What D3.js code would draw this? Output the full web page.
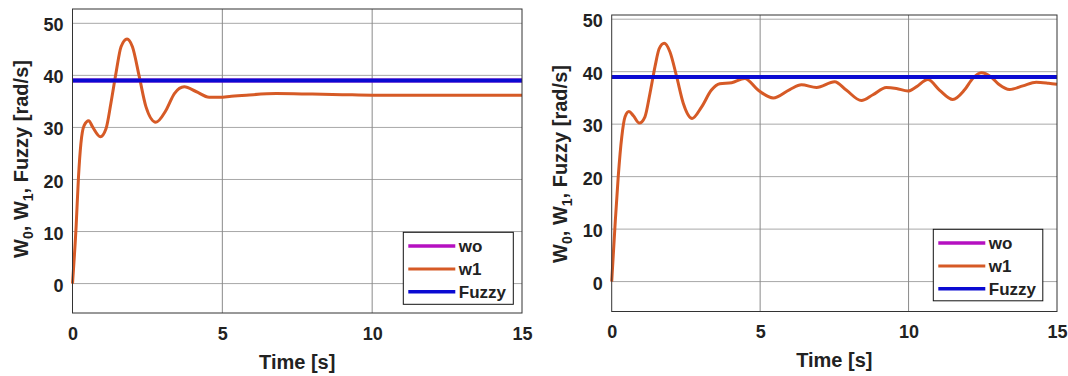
<!DOCTYPE html>
<html>
<head>
<meta charset="utf-8">
<script src="https://cdn.jsdelivr.net/npm/d3@7"></script>
<style>
  html, body { margin: 0; padding: 0; background: #fff; }
  svg { display: block; }
  text { font-family: "Liberation Sans", Arial, sans-serif; font-weight: bold; fill: #222; }
</style>
</head>
<body>
<svg id="chart" width="1068" height="376"></svg>
<script>
// Axis ticks
const timeTicks = [0, 5, 10, 15];
const speedTicks = [0, 10, 20, 30, 40, 50];
const seriesNames = ["wo", "w1", "Fuzzy"];

// Reference speed (wo) and fuzzy-controlled speed, constant over the run
const refTime = [0, 15];
const woSpeed = [39, 39];
const fuzzySpeed = [39, 39];

// Left panel: w1 response
const leftTime = [0, 0.12, 0.2, 0.28, 0.39, 0.54, 0.67, 0.93, 1.12, 1.28, 1.45, 1.62, 1.82, 2.0,
  2.23, 2.45, 2.78, 3.12, 3.4, 3.73, 4.12, 4.56, 4.9, 5.3, 5.8, 6.8, 8, 9, 10, 11, 12, 13, 14, 15];
const leftW1 = [0, 10.9, 20.5, 26.9, 30.4, 31.3, 30.1, 28.2, 29.8, 34.6, 40.4, 45.5, 47.0, 45.5,
  39.7, 34.0, 31.0, 33.3, 36.5, 37.8, 36.9, 35.8, 35.8, 36.0, 36.2, 36.5, 36.4, 36.3, 36.2, 36.2, 36.2, 36.2, 36.2, 36.2];

// Right panel: w1 response
const rightTime = [0, 0.11, 0.22, 0.34, 0.45, 0.58, 0.73, 0.93, 1.12, 1.29, 1.46, 1.6, 1.77, 1.96,
  2.19, 2.41, 2.71, 3.03, 3.36, 3.64, 4.04, 4.48, 4.93, 5.44, 6.0, 6.39, 6.9, 7.51, 7.9, 8.41,
  8.8, 9.25, 9.59, 9.98, 10.26, 10.65, 11.04, 11.49, 11.88, 12.16, 12.45, 12.78, 13.06, 13.4,
  13.85, 14.3, 14.72, 15];
const rightW1 = [0, 10.5, 20, 27.6, 31.4, 32.4, 31.6, 30.2, 31.4, 35.9, 41, 44.4, 45.4, 43.8,
  39, 34, 31.1, 33.3, 36.5, 37.7, 37.9, 38.7, 36.5, 35.0, 36.6, 37.5, 37.0, 38.1, 36.5, 34.5,
  35.6, 37.0, 36.8, 36.3, 37.1, 38.5, 36.5, 34.7, 36.5, 38.7, 39.8, 39.0, 37.5, 36.6,
  37.3, 38.0, 37.8, 37.6];

const colors = { wo: "#b510c0", w1: "#d65a26", Fuzzy: "#0a0ad2" };

const panels = [
  { time: leftTime, w1: leftW1, x0: 72.5, x1: 522, y0: 9, y1: 313, yDom: [-5.65, 52.75],
    ylabX: 27.5, ylabY: 159, legX: 403.3, legY: 232.3, legW: 110, legH: 72 },
  { time: rightTime, w1: rightW1, x0: 611.7, x1: 1057, y0: 15, y1: 311.5, yDom: [-5.7, 50.8],
    ylabX: 567, ylabY: 164, legX: 933.3, legY: 229.3, legW: 109.5, legH: 71.5 }
];

const svg = d3.select("#chart");

panels.forEach(p => {
  const x = d3.scaleLinear().domain([0, 15]).range([p.x0, p.x1]);
  const y = d3.scaleLinear().domain(p.yDom).range([p.y1, p.y0]);
  const g = svg.append("g");

  // plot background
  g.append("rect").attr("x", p.x0).attr("y", p.y0)
    .attr("width", p.x1 - p.x0).attr("height", p.y1 - p.y0).attr("fill", "#fff");

  // grid
  g.selectAll(".hg").data(speedTicks).join("line")
    .attr("x1", p.x0).attr("x2", p.x1)
    .attr("y1", d => y(d)).attr("y2", d => y(d))
    .attr("stroke", "#a8a8a8").attr("stroke-width", 1);
  g.selectAll(".vg").data(timeTicks.filter(t => t > 0 && t < 15)).join("line")
    .attr("y1", p.y0).attr("y2", p.y1)
    .attr("x1", d => x(d)).attr("x2", d => x(d))
    .attr("stroke", "#8a8a8a").attr("stroke-width", 1);

  // axes (tick labels only; the frame is drawn below)
  const yAxis = d3.axisLeft(y).tickValues(speedTicks).tickSize(0).tickPadding(9);
  const ya = g.append("g").attr("transform", `translate(${p.x0},0)`).call(yAxis);
  ya.select(".domain").remove();
  ya.selectAll("text").attr("font-size", 18).attr("font-family", null).attr("dy", "0.42em")
    .style("font-family", "'Liberation Sans', Arial, sans-serif").style("fill", "#222");

  const xAxis = d3.axisBottom(x).tickValues(timeTicks).tickSize(0).tickPadding(14);
  const xa = g.append("g").attr("transform", `translate(0,${p.y1})`).call(xAxis);
  xa.select(".domain").remove();
  xa.selectAll("text").attr("font-size", 18).attr("font-family", null).attr("dy", "0.72em")
    .style("font-family", "'Liberation Sans', Arial, sans-serif").style("fill", "#222");

  // series
  const line = d3.line().x(d => x(d[0])).y(d => y(d[1]));
  g.append("path").datum(refTime.map((t, i) => [t, woSpeed[i]]))
    .attr("d", line).attr("fill", "none").attr("stroke", colors.wo).attr("stroke-width", 4);
  g.append("path").datum(p.time.map((t, i) => [t, p.w1[i]]))
    .attr("d", line.curve(d3.curveMonotoneX)).attr("fill", "none")
    .attr("stroke", colors.w1).attr("stroke-width", 3).attr("stroke-linejoin", "round");
  g.append("path").datum(refTime.map((t, i) => [t, fuzzySpeed[i]]))
    .attr("d", d3.line().x(d => x(d[0])).y(d => y(d[1])))
    .attr("fill", "none").attr("stroke", colors.Fuzzy).attr("stroke-width", 4);

  // frame
  g.append("rect").attr("x", p.x0).attr("y", p.y0)
    .attr("width", p.x1 - p.x0).attr("height", p.y1 - p.y0)
    .attr("fill", "none").attr("stroke", "#333").attr("stroke-width", 1);

  // axis labels
  g.append("text").attr("x", (p.x0 + p.x1) / 2).attr("y", p.y1 + 55.5)
    .attr("text-anchor", "middle").attr("font-size", 20).text("Time [s]");

  const yl = g.append("text")
    .attr("transform", `translate(${p.ylabX},${p.ylabY}) rotate(-90)`)
    .attr("text-anchor", "middle").attr("font-size", 20);
  yl.append("tspan").text("W");
  yl.append("tspan").attr("font-size", 14).attr("dy", 5).text("0");
  yl.append("tspan").attr("dy", -5).text(", W");
  yl.append("tspan").attr("font-size", 14).attr("dy", 5).text("1");
  yl.append("tspan").attr("dy", -5).text(", Fuzzy [rad/s]");

  // legend
  const lg = g.append("g").attr("transform", `translate(${p.legX},${p.legY})`);
  lg.append("rect").attr("width", p.legW).attr("height", p.legH)
    .attr("fill", "#fff").attr("stroke", "#111").attr("stroke-width", 1);
  const rowY = [13.7, 36.7, 59.5];
  seriesNames.forEach((name, i) => {
    lg.append("line").attr("x1", 5).attr("x2", 52).attr("y1", rowY[i]).attr("y2", rowY[i])
      .attr("stroke", colors[name]).attr("stroke-width", name === "w1" ? 3 : 3.5);
    lg.append("text").attr("x", 55.5).attr("y", rowY[i]).attr("dy", "0.36em")
      .attr("font-size", 17).text(name);
  });
});
</script>
</body>
</html>
